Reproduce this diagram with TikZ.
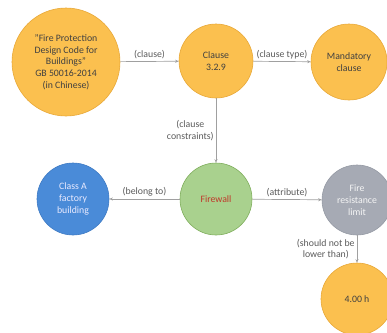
\documentclass[tikz,border=0pt]{standalone}
\usepackage{fontspec}
\setmainfont{Carlito}
\usetikzlibrary{arrows.meta}
\definecolor{orfill}{HTML}{FBC04F}
\definecolor{ordraw}{HTML}{E8A838}
\definecolor{grfill}{HTML}{A9D18E}
\definecolor{grdraw}{HTML}{7FAE5C}
\definecolor{blfill}{HTML}{4A8BD8}
\definecolor{bldraw}{HTML}{3F7BC4}
\definecolor{gyfill}{HTML}{A6AAB4}
\definecolor{gydraw}{HTML}{959AA4}
\definecolor{lnclr}{HTML}{A0A0A0}
\definecolor{txclr}{HTML}{404040}
\definecolor{lbclr}{HTML}{5A5A5A}
\definecolor{fwred}{HTML}{C0392B}
\begin{document}
\begin{tikzpicture}[x=1pt,y=-1pt,
  circ/.style={circle,inner sep=0pt,align=center,font=\fontsize{9.8}{11.7}\selectfont,line width=0.6pt},
  orc/.style={circ,fill=orfill,draw=ordraw,text=txclr},
  grc/.style={circ,fill=grfill,draw=grdraw,text=fwred},
  blc/.style={circ,fill=blfill,draw=bldraw,text=white!92!blue},
  gyc/.style={circ,fill=gyfill,draw=gydraw,text=white!92!gray},
  conn/.style={draw=lnclr,line width=0.7pt,-{Stealth[length=3.5pt,width=3pt]}},
  lbl/.style={font=\fontsize{9.8}{11.7}\selectfont,text=lbclr,inner sep=1pt,align=center}]
\useasboundingbox (0,0) rectangle (387,332);
\node[orc,minimum size=108pt] (gb) at (66,62) {"Fire Protection\\Design Code for\\Buildings"\\GB 50016-2014\\(in Chinese)};
\node[orc,minimum size=74pt] (cl) at (216,61) {Clause\\3.2.9};
\node[orc,minimum size=76pt] (md) at (349,62) {Mandatory\\clause};
\node[grc,minimum size=72pt] (fw) at (216,199) {Firewall};
\node[blc,minimum size=72pt] (ca) at (73,199) {Class A\\factory\\building};
\node[gyc,minimum size=70pt] (fr) at (357,200) {Fire\\resistance\\limit};
\node[orc,minimum size=72pt] (h4) at (357,299) {4.00 h};
\draw[conn] (gb) -- node[lbl,above=1pt] {(clause)} (cl);
\draw[conn] (cl) -- node[lbl,above=1pt] {(clause type)} (md);
\draw[conn] (cl) -- node[lbl,left=1pt,pos=0.5] {(clause\\constraints)} (fw);
\draw[conn] (fw) -- node[lbl,above=1pt] {(belong to)} (ca);
\draw[conn] (fw) -- node[lbl,above=1pt] {(attribute)} (fr);
\draw[conn] (fr) -- node[lbl,left=1pt,pos=0.5] {(should not be\\lower than)} (h4);
\end{tikzpicture}
\end{document}
